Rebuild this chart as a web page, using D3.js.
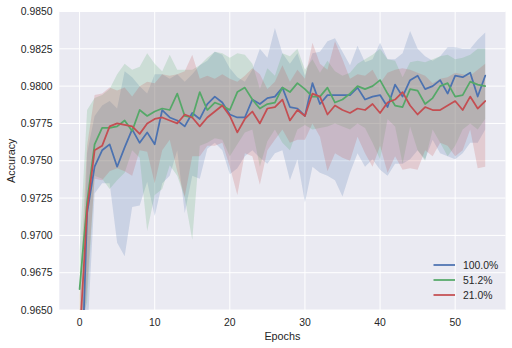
<!DOCTYPE html>
<html>
<head>
<meta charset="utf-8">
<script src="https://cdn.jsdelivr.net/npm/d3@7"></script>
<style>
  html, body { margin: 0; padding: 0; background: #ffffff; }
  svg { display: block; font-family: "Liberation Sans", Arial, sans-serif; }
</style>
</head>
<body>
<svg id="chart" width="512" height="348"></svg>
<script>
// ---- data ----
const epochs = d3.range(0, 55);
const seriesNames = ["100.0%", "51.2%", "21.0%"];
const seriesColors = ["#4C72B0", "#55A868", "#C44E52"];

const mean100 = [0.9560,0.9715,0.9746,0.9757,0.9761,0.9746,0.9759,0.9771,0.9762,0.9769,
  0.9761,0.9784,0.9779,0.9777,0.9773,0.9782,0.9778,0.9788,0.9793,0.9789,
  0.9781,0.9779,0.9779,0.9791,0.9788,0.9792,0.9793,0.9799,0.9786,0.9785,
  0.9780,0.9802,0.9788,0.9794,0.9794,0.9794,0.9794,0.9799,0.9791,0.9793,
  0.9794,0.9786,0.9801,0.9793,0.9804,0.9807,0.9798,0.9800,0.9804,0.9795,
  0.9807,0.9806,0.9809,0.9793,0.9807];
const upper100 = [0.9600,0.9755,0.9780,0.9787,0.9790,0.9785,0.9810,0.9806,0.9800,0.9795,
  0.9808,0.9808,0.9805,0.9808,0.9803,0.9808,0.9814,0.9817,0.9823,0.9821,
  0.9812,0.9806,0.9803,0.9811,0.9825,0.9819,0.9839,0.9822,0.9815,0.9822,
  0.9807,0.9822,0.9823,0.9830,0.9832,0.9823,0.9814,0.9827,0.9816,0.9818,
  0.9829,0.9818,0.9818,0.9822,0.9837,0.9825,0.9820,0.9817,0.9820,0.9826,
  0.9826,0.9825,0.9825,0.9831,0.9836];
const lower100 = [0.9520,0.9630,0.9728,0.9735,0.9735,0.9695,0.9686,0.9719,0.9720,0.9736,
  0.9713,0.9735,0.9740,0.9757,0.9715,0.9740,0.9738,0.9758,0.9762,0.9757,
  0.9741,0.9745,0.9753,0.9757,0.9752,0.9748,0.9755,0.9757,0.9737,0.9751,
  0.9722,0.9746,0.9742,0.9740,0.9737,0.9726,0.9742,0.9755,0.9746,0.9751,
  0.9744,0.9740,0.9748,0.9748,0.9751,0.9757,0.9751,0.9764,0.9755,0.9753,
  0.9751,0.9755,0.9762,0.9762,0.9771];

const mean512 = [0.9664,0.9722,0.9761,0.9772,0.9772,0.9773,0.9777,0.9770,0.9784,0.9780,
  0.9783,0.9785,0.9784,0.9795,0.9780,0.9779,0.9796,0.9784,0.9789,0.9787,
  0.9784,0.9796,0.9799,0.9791,0.9785,0.9788,0.9789,0.9799,0.9796,0.9802,
  0.9798,0.9793,0.9793,0.9799,0.9789,0.9791,0.9795,0.9800,0.9798,0.9800,
  0.9804,0.9795,0.9787,0.9786,0.9798,0.9797,0.9788,0.9792,0.9800,0.9802,
  0.9793,0.9794,0.9803,0.9801,0.9800];
const upper512 = [0.9690,0.9784,0.9792,0.9794,0.9798,0.9808,0.9815,0.9811,0.9813,0.9822,
  0.9815,0.9810,0.9821,0.9811,0.9811,0.9811,0.9814,0.9819,0.9823,0.9822,
  0.9819,0.9822,0.9821,0.9815,0.9798,0.9812,0.9807,0.9822,0.9820,0.9825,
  0.9811,0.9818,0.9809,0.9817,0.9810,0.9807,0.9809,0.9815,0.9818,0.9821,
  0.9825,0.9818,0.9817,0.9806,0.9816,0.9817,0.9816,0.9818,0.9820,0.9821,
  0.9818,0.9819,0.9821,0.9825,0.9825];
const lower512 = [0.9640,0.9655,0.9740,0.9738,0.9731,0.9737,0.9742,0.9757,0.9752,0.9703,
  0.9727,0.9731,0.9747,0.9740,0.9725,0.9697,0.9760,0.9762,0.9765,0.9764,
  0.9753,0.9761,0.9769,0.9771,0.9746,0.9763,0.9771,0.9762,0.9757,0.9771,
  0.9774,0.9771,0.9772,0.9773,0.9775,0.9773,0.9771,0.9775,0.9772,0.9762,
  0.9751,0.9778,0.9773,0.9748,0.9773,0.9757,0.9750,0.9771,0.9762,0.9753,
  0.9760,0.9771,0.9775,0.9771,0.9778];

const mean210 = [0.9630,0.9717,0.9757,0.9760,0.9773,0.9775,0.9774,0.9773,0.9768,0.9775,
  0.9778,0.9779,0.9777,0.9775,0.9781,0.9779,0.9773,0.9779,0.9783,0.9787,
  0.9780,0.9769,0.9778,0.9783,0.9775,0.9785,0.9786,0.9791,0.9777,0.9784,
  0.9780,0.9795,0.9793,0.9781,0.9787,0.9784,0.9782,0.9785,0.9784,0.9788,
  0.9782,0.9789,0.9791,0.9796,0.9787,0.9781,0.9786,0.9784,0.9784,0.9787,
  0.9790,0.9784,0.9793,0.9785,0.9790];
const upper210 = [0.9660,0.9760,0.9794,0.9795,0.9799,0.9797,0.9799,0.9793,0.9800,0.9803,
  0.9802,0.9808,0.9807,0.9808,0.9810,0.9821,0.9805,0.9807,0.9805,0.9808,
  0.9805,0.9803,0.9807,0.9812,0.9808,0.9798,0.9803,0.9814,0.9803,0.9811,
  0.9805,0.9829,0.9815,0.9811,0.9830,0.9818,0.9805,0.9808,0.9807,0.9811,
  0.9802,0.9809,0.9811,0.9812,0.9811,0.9809,0.9807,0.9802,0.9805,0.9806,
  0.9809,0.9808,0.9807,0.9811,0.9815];
const lower210 = [0.9600,0.9665,0.9738,0.9737,0.9743,0.9745,0.9743,0.9740,0.9757,0.9756,
  0.9735,0.9757,0.9764,0.9743,0.9726,0.9753,0.9753,0.9760,0.9760,0.9762,
  0.9746,0.9727,0.9755,0.9753,0.9734,0.9757,0.9764,0.9771,0.9762,0.9764,
  0.9764,0.9775,0.9766,0.9743,0.9755,0.9752,0.9750,0.9766,0.9755,0.9746,
  0.9760,0.9742,0.9753,0.9744,0.9745,0.9744,0.9757,0.9753,0.9762,0.9760,
  0.9753,0.9757,0.9771,0.9745,0.9746];

const xTicks = [0, 10, 20, 30, 40, 50];
const yTicks = [0.9650, 0.9675, 0.9700, 0.9725, 0.9750, 0.9775, 0.9800, 0.9825, 0.9850];
const xLabel = "Epochs";
const yLabel = "Accuracy";

// ---- layout ----
const W = 512, H = 348;
const L = 59.3, R = 505.5, T = 11.5, B = 310;
const svg = d3.select("#chart");

const x = d3.scaleLinear().domain([-2.7, 56.7]).range([L, R]);
const y = d3.scaleLinear().domain([0.965, 0.985]).range([B, T]);

svg.append("rect").attr("x", L).attr("y", T).attr("width", R - L).attr("height", B - T).attr("fill", "#EAEAF2");

svg.append("defs").append("clipPath").attr("id", "clip")
  .append("rect").attr("x", L).attr("y", T).attr("width", R - L).attr("height", B - T);

// gridlines
const grid = svg.append("g");
grid.selectAll("line.gx").data(xTicks).enter().append("line")
  .attr("x1", d => x(d)).attr("x2", d => x(d)).attr("y1", T).attr("y2", B)
  .attr("stroke", "#ffffff").attr("stroke-width", 1);
grid.selectAll("line.gy").data(yTicks).enter().append("line")
  .attr("x1", L).attr("x2", R).attr("y1", d => y(d)).attr("y2", d => y(d))
  .attr("stroke", "#ffffff").attr("stroke-width", 1);

// series
const series = [
  { name: seriesNames[0], color: seriesColors[0], mean: mean100, lo: lower100, hi: upper100 },
  { name: seriesNames[1], color: seriesColors[1], mean: mean512, lo: lower512, hi: upper512 },
  { name: seriesNames[2], color: seriesColors[2], mean: mean210, lo: lower210, hi: upper210 }
];

const plot = svg.append("g").attr("clip-path", "url(#clip)");
const area = d3.area().x((d, i) => x(epochs[i])).y0(d => y(d[0])).y1(d => y(d[1]));
const line = d3.line().x((d, i) => x(epochs[i])).y(d => y(d));

series.forEach(s => {
  plot.append("path")
    .datum(epochs.map((e, i) => [s.lo[i], s.hi[i]]))
    .attr("d", area)
    .attr("fill", s.color).attr("fill-opacity", 0.2).attr("stroke", "none");
});
series.forEach(s => {
  plot.append("path")
    .datum(s.mean)
    .attr("d", line)
    .attr("fill", "none").attr("stroke", s.color).attr("stroke-width", 1.75)
    .attr("stroke-linejoin", "round").attr("stroke-linecap", "round");
});

// axes tick labels
const txt = "#262626";
svg.append("g").selectAll("text").data(xTicks).enter().append("text")
  .attr("x", d => x(d)).attr("y", 325.5)
  .attr("text-anchor", "middle").attr("font-size", 10.4).attr("fill", txt)
  .text(d => d3.format("d")(d));
svg.append("g").selectAll("text").data(yTicks).enter().append("text")
  .attr("x", 52.5).attr("y", d => y(d) + 3.7)
  .attr("text-anchor", "end").attr("font-size", 10.4).attr("fill", txt)
  .text(d => d3.format(".4f")(d));

svg.append("text").attr("x", (L + R) / 2).attr("y", 339.5)
  .attr("text-anchor", "middle").attr("font-size", 10.8).attr("fill", txt).text(xLabel);
svg.append("text").attr("transform", `translate(14.5, ${(T + B) / 2}) rotate(-90)`)
  .attr("text-anchor", "middle").attr("font-size", 10.8).attr("fill", txt).text(yLabel);

// legend
const leg = svg.append("g");
series.forEach((s, i) => {
  const ly = 265 + i * 15;
  leg.append("line").attr("x1", 433.5).attr("x2", 455).attr("y1", ly).attr("y2", ly)
    .attr("stroke", s.color).attr("stroke-width", 1.75);
  leg.append("text").attr("x", 463).attr("y", ly + 3.7)
    .attr("font-size", 10.4).attr("fill", txt).text(s.name);
});
</script>
</body>
</html>
